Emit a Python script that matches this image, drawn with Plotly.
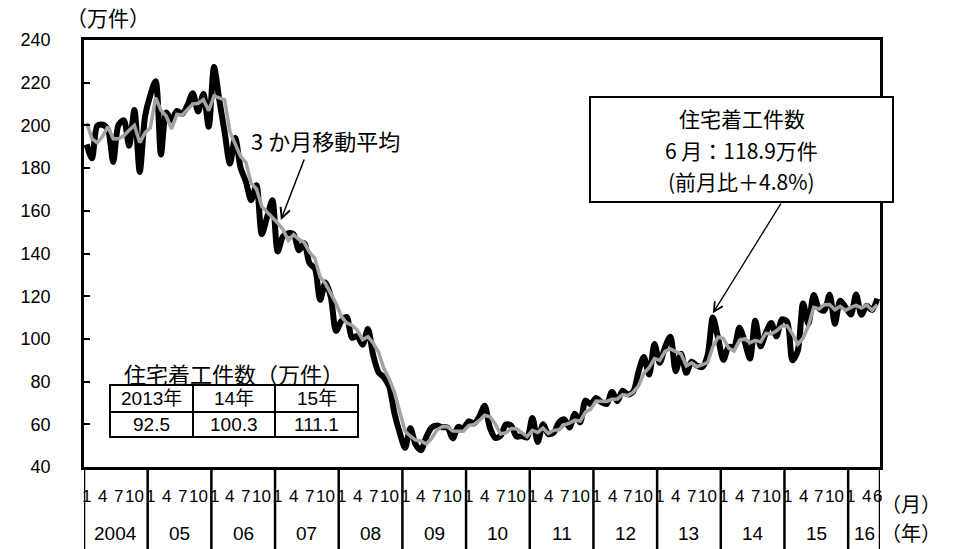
import plotly.graph_objects as go
import pandas as pd

# ---------------- data (万件, seasonally adjusted annual rate) ----------------
year_labels = ["2004", "05", "06", "07", "08", "09", "10", "11", "12", "13", "14", "15", "16"]
month_tick_labels = ["1", "4", "7", "10"]
month_tick_numbers = [1, 4, 7, 10]
last_year_tick_labels = ["1", "4", "6"]
last_year_tick_numbers = [1, 4, 6]

# last two months of 2003 (needed for the trailing 3-month average)
starts_2003_tail = [206.7, 205.7]

starts_2004 = [191.1, 184.6, 199.8, 200.3, 198.1, 182.8, 200.2, 202.4, 190.5, 207.2, 178.2, 204.2]
starts_2005 = [214.2, 220.7, 186.4, 206.1, 202.5, 206.8, 205.4, 209.5, 215.1, 206.5, 214.7, 199.4]
starts_2006 = [227.3, 211.9, 196.9, 182.1, 194.2, 180.2, 173.7, 165.0, 172.0, 149.1, 157.0, 164.9]
starts_2007 = [140.9, 148.0, 149.5, 149.0, 141.5, 144.8, 135.4, 133.0, 118.3, 126.4, 119.7, 103.7]
starts_2008 = [108.4, 110.3, 100.5, 101.3, 97.3, 104.6, 92.3, 84.4, 82.0, 77.7, 65.2, 56.0]
starts_2009 = [49.0, 58.2, 50.5, 47.8, 54.0, 58.5, 59.4, 58.6, 58.5, 53.4, 58.8, 58.1]
starts_2010 = [61.4, 60.4, 63.6, 68.7, 58.3, 53.6, 54.6, 59.9, 59.4, 54.3, 54.5, 53.9]
starts_2011 = [63.0, 51.7, 60.0, 55.4, 56.1, 60.8, 62.3, 58.5, 65.0, 61.0, 71.1, 69.4]
starts_2012 = [72.3, 70.4, 69.5, 75.3, 70.8, 75.7, 74.0, 75.4, 84.7, 91.5, 83.3, 97.6]
starts_2013 = [88.8, 96.2, 101.0, 84.9, 93.1, 84.1, 89.3, 87.5, 86.8, 92.2, 110.0, 100.3]
starts_2014 = [90.2, 96.3, 96.3, 105.2, 98.7, 90.8, 108.5, 96.5, 102.9, 107.4, 101.2, 109.2]
starts_2015 = [108.0, 90.0, 94.4, 116.6, 107.1, 120.6, 114.3, 113.2, 120.7, 107.1, 117.9, 114.9]
starts_2016 = [111.4, 120.8, 111.3, 115.5, 113.5, 118.9]

table_years = ["2013年", "14年", "15年"]
table_values = ["92.5", "100.3", "111.1"]

callout_lines = ["住宅着工件数", "6 月：118.9万件", "(前月比＋4.8%)"]

# ---------------------------------------------------------------------------
yearly = [starts_2004, starts_2005, starts_2006, starts_2007, starts_2008, starts_2009,
          starts_2010, starts_2011, starts_2012, starts_2013, starts_2014, starts_2015,
          starts_2016]
starts = [v for yr in yearly for v in yr]
months = [f"{2004 + i // 12}-{i % 12 + 1:02d}" for i in range(len(starts))]
ma3 = pd.Series(starts_2003_tail + starts).rolling(3).mean().iloc[2:].round(2).tolist()

N = len(starts)

# geometry (pixels)
W, H = 962, 549
ML, MR, MT, MB = 84, 82, 40, 82
PW, PH = W - ML - MR, H - MT - MB


def px_x(px):
    return (px - ML) / PW


def px_y(py):
    return (H - MB - py) / PH


CJK = "Noto Sans CJK JP"
LAT = "Liberation Sans, Arial"
MIX = "Liberation Sans, Noto Sans CJK JP"

fig = go.Figure()
fig.add_trace(go.Scatter(x=months, y=starts, mode="lines",
                         line=dict(color="black", width=6, shape="spline", smoothing=0.8),
                         hoverinfo="skip", showlegend=False))
fig.add_trace(go.Scatter(x=months, y=ma3, mode="lines",
                         line=dict(color="#A3A3A3", width=3.5),
                         hoverinfo="skip", showlegend=False))

shapes = []
annotations = []

# year dividers below the plot
year_starts = list(range(0, N, 12)) + [N]
for s in year_starts:
    shapes.append(dict(type="line", xref="x", yref="paper", x0=s - 0.5, x1=s - 0.5,
                       y0=0, y1=-MB / PH, line=dict(color="black", width=2.5)))

# month labels
for yi in range(len(year_labels)):
    is_last = yi == len(year_labels) - 1
    labs = last_year_tick_labels if is_last else month_tick_labels
    nums = last_year_tick_numbers if is_last else month_tick_numbers
    for lab, m in zip(labs, nums):
        idx = yi * 12 + m - 1
        if idx < N:
            annotations.append(dict(x=idx, y=px_y(496), xref="x", yref="paper",
                                    text=lab, showarrow=False, xanchor="center",
                                    yanchor="middle",
                                    font=dict(family=LAT, size=17, color="black")))
# year labels
for yi, lab in enumerate(year_labels):
    s = yi * 12
    e = min(s + 12, N)
    annotations.append(dict(x=(s + e - 1) / 2, y=px_y(533), xref="x", yref="paper",
                            text=lab, showarrow=False, xanchor="center", yanchor="middle",
                            font=dict(family=LAT, size=19, color="black")))

# unit labels
annotations.append(dict(x=px_x(108), y=px_y(17), xref="paper", yref="paper",
                        text="（万件）", showarrow=False, xanchor="center", yanchor="middle",
                        font=dict(family=CJK, size=21, color="black")))
annotations.append(dict(x=px_x(911), y=px_y(503), xref="paper", yref="paper",
                        text="（月）", showarrow=False, xanchor="center", yanchor="middle",
                        font=dict(family=CJK, size=20, color="black")))
annotations.append(dict(x=px_x(911), y=px_y(532), xref="paper", yref="paper",
                        text="（年）", showarrow=False, xanchor="center", yanchor="middle",
                        font=dict(family=CJK, size=20, color="black")))

# moving-average label and arrow
annotations.append(dict(x=px_x(325), y=px_y(140), xref="paper", yref="paper",
                        text="3 か月移動平均", showarrow=False, xanchor="center",
                        yanchor="middle", font=dict(family=CJK, size=22, color="black")))
annotations.append(dict(x=36.6, y=155.7, xref="x", yref="y", axref="x", ayref="y",
                        ax=41.1, ay=184.7, text="", showarrow=True, arrowhead=5,
                        arrowwidth=1.5, arrowsize=1.3, arrowcolor="black",
                        standoff=0, startstandoff=0))

# latest-value box and arrow
shapes.append(dict(type="rect", xref="paper", yref="paper",
                   x0=px_x(590), x1=px_x(893), y0=px_y(97), y1=px_y(202),
                   line=dict(color="black", width=2), fillcolor="white", layer="above"))
for k, line_text in enumerate(callout_lines):
    annotations.append(dict(x=px_x(741.5), y=px_y(118.5 + 31 * k), xref="paper",
                            yref="paper", text=line_text, showarrow=False,
                            xanchor="center", yanchor="middle",
                            font=dict(family=CJK, size=21, color="black")))
spike = starts.index(max(starts[108:120]))
annotations.append(dict(x=spike, y=starts[spike] + 2, xref="x", yref="y",
                        axref="x", ayref="y", ax=131.0, ay=164.1, text="",
                        showarrow=True, arrowhead=5, arrowwidth=1.3, arrowsize=1.4,
                        arrowcolor="black", standoff=0, startstandoff=0))

# annual table
annotations.append(dict(x=px_x(234), y=px_y(373), xref="paper", yref="paper",
                        text="住宅着工件数（万件）", showarrow=False, xanchor="center",
                        yanchor="middle", font=dict(family=CJK, size=22, color="black")))
col_edges = [110, 193, 275, 358]
row_edges = [385, 412, 437]
shapes.append(dict(type="rect", xref="paper", yref="paper",
                   x0=px_x(col_edges[0]), x1=px_x(col_edges[-1]),
                   y0=px_y(row_edges[0]), y1=px_y(row_edges[-1]),
                   line=dict(color="black", width=2), fillcolor="white", layer="above"))
shapes.append(dict(type="line", xref="paper", yref="paper",
                   x0=px_x(col_edges[0]), x1=px_x(col_edges[-1]),
                   y0=px_y(row_edges[1]), y1=px_y(row_edges[1]),
                   line=dict(color="black", width=2)))
for cx in col_edges[1:-1]:
    shapes.append(dict(type="line", xref="paper", yref="paper",
                       x0=px_x(cx), x1=px_x(cx),
                       y0=px_y(row_edges[0]), y1=px_y(row_edges[-1]),
                       line=dict(color="black", width=2)))
for i, (yl, vl) in enumerate(zip(table_years, table_values)):
    cx = (col_edges[i] + col_edges[i + 1]) / 2
    annotations.append(dict(x=px_x(cx), y=px_y((row_edges[0] + row_edges[1]) / 2),
                            xref="paper", yref="paper", text=yl, showarrow=False,
                            xanchor="center", yanchor="middle",
                            font=dict(family=MIX, size=19, color="black")))
    annotations.append(dict(x=px_x(cx), y=px_y((row_edges[1] + row_edges[2]) / 2),
                            xref="paper", yref="paper", text=vl, showarrow=False,
                            xanchor="center", yanchor="middle",
                            font=dict(family=MIX, size=19, color="black")))

fig.update_layout(
    width=W, height=H,
    margin=dict(l=ML, r=MR, t=MT, b=MB, pad=0),
    paper_bgcolor="white", plot_bgcolor="white",
    shapes=shapes, annotations=annotations,
    xaxis=dict(type="category", range=[-0.5, N - 0.5], showgrid=False, zeroline=False,
               showticklabels=False, ticks="", showline=True, linecolor="black",
               linewidth=2.5, mirror=True, fixedrange=True),
    yaxis=dict(range=[40, 240], dtick=20, tick0=40, showgrid=False, zeroline=False,
               ticks="inside", ticklen=6, tickwidth=2, tickcolor="black",
               showline=True, linecolor="black", linewidth=2.5, mirror=True,
               tickfont=dict(family=LAT, size=18, color="black"),
               ticklabelstandoff=27, fixedrange=True),
)

fig.write_html("out.html", config={"displayModeBar": False},
               post_script="document.body.style.margin='0';document.body.style.overflow='hidden';")
